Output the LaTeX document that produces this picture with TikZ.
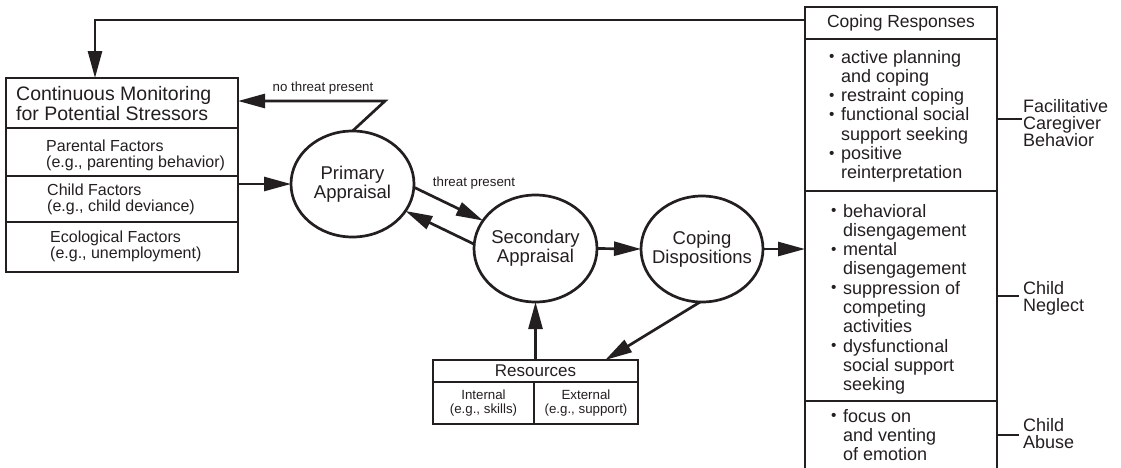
\documentclass[tikz,border=0pt]{standalone}
\usepackage{fontspec}
\setmainfont{Liberation Sans}
\usepackage{graphicx}
\usetikzlibrary{arrows.meta,shapes.geometric,calc}
\definecolor{ink}{HTML}{231F20}

% small bullet and matching hanging indent for the coping lists
\newcommand{\bul}{\makebox[12pt][l]{\raisebox{1.5pt}{\scalebox{0.85}{\textbullet}}}}
\newcommand{\ind}{\hspace*{12pt}}

\tikzset{
  frame/.style={draw=ink, line width=2.6pt, inner sep=0pt, outer sep=0pt},
  rframe/.style={draw=ink, line width=2.2pt, inner sep=0pt, outer sep=0pt},
  oval/.style={ellipse, draw=ink, line width=2.7pt, inner sep=0pt, outer sep=0pt,
               minimum width=123pt, minimum height=106pt},
  ovaltext/.style={align=center, inner sep=0pt, text=ink, font=\fontsize{18.5}{19}\selectfont},
  factor/.style={anchor=west, align=left, inner sep=0pt, text=ink, font=\fontsize{16}{16}\selectfont},
  small/.style={inner sep=0pt, text=ink, font=\fontsize{13.3}{14}\selectfont},
  list/.style={anchor=base west, inner sep=0pt, text=ink, font=\fontsize{18}{19.3}\selectfont},
  outcome/.style={anchor=north west, align=left, inner sep=0pt, text=ink, font=\fontsize{18}{17}\selectfont},
  flow/.style={draw=ink, line width=2.7pt, line join=miter, -{Triangle[length=27pt,width=14pt]}},
  tag/.style={draw=ink, line width=1.2pt},
}

\begin{document}
\begin{tikzpicture}[x=1pt,y=-1pt]
\useasboundingbox (0,0) rectangle (1121,467);
\clip (0,0) rectangle (1121,467);

% ---- monitoring box with its three stressor sources
\node[frame, minimum width=232pt, minimum height=50pt] (mon) at (122,103) {};
\node[anchor=west, align=left, inner sep=0pt, text=ink, font=\fontsize{19.5}{20}\selectfont]
  (monT) at (16,103.5) {Continuous Monitoring\\for Potential Stressors};
\node[frame, minimum width=232pt, minimum height=48pt] (par) at (122,152) {};
\node[factor] (parT) at (46,155) {Parental Factors\\(e.g., parenting behavior)};
\node[frame, minimum width=232pt, minimum height=46pt] (chi) at (122,199) {};
\node[factor] (chiT) at (47,199) {Child Factors\\(e.g., child deviance)};
\node[frame, minimum width=232pt, minimum height=50pt] (eco) at (122,247) {};
\node[factor] (ecoT) at (50,246.5) {Ecological Factors\\(e.g., unemployment)};

% ---- appraisal and disposition ellipses
\node[oval] (pri) at (352.5,184) {};
\node[ovaltext] (priT) at (pri) {Primary\\Appraisal};
\node[oval, minimum height=107pt] (sec) at (535.5,248.5) {};
\node[ovaltext] (secT) at (sec) {Secondary\\Appraisal};
\node[oval, minimum width=122pt] (cop) at (702,249) {};
\node[ovaltext] (copT) at (cop) {Coping\\Dispositions};

% ---- resources table
\node[frame, minimum width=205pt, minimum height=22pt, text=ink, font=\fontsize{17}{17}\selectfont]
  (res) at (535.5,371) {Resources};
\node[frame, minimum width=101pt, minimum height=42pt, align=center, text=ink, font=\fontsize{13.3}{14}\selectfont]
  (int) at (483.5,403) {Internal\\(e.g., skills)};
\node[frame, minimum width=104pt, minimum height=42pt, align=center, text=ink, font=\fontsize{13.3}{14}\selectfont]
  (ext) at (586,403) {External\\(e.g., support)};

% ---- coping responses column
\node[rframe, minimum width=192pt, minimum height=32pt, text=ink, font=\fontsize{17.5}{18}\selectfont]
  (resp) at (901,23) {Coping Responses};
\node[rframe, minimum width=192pt, minimum height=152pt] (fac) at (901,115) {};
\node[rframe, minimum width=192pt, minimum height=210pt] (neg) at (901,296) {};
\node[rframe, minimum width=192pt, minimum height=89pt] (abu) at (901,445.5) {};

\node[list] (facL) at (829,63) {\begin{tabular}[t]{@{}l@{}}
  \bul active planning\\ \ind and coping\\ \bul restraint coping\\
  \bul functional social\\ \ind support seeking\\ \bul positive\\ \ind reinterpretation
  \end{tabular}};
\node[list] (negL) at (831,217) {\begin{tabular}[t]{@{}l@{}}
  \bul behavioral\\ \ind disengagement\\ \bul mental\\ \ind disengagement\\
  \bul suppression of\\ \ind competing\\ \ind activities\\ \bul dysfunctional\\
  \ind social support\\ \ind seeking
  \end{tabular}};
\node[list] (abuL) at (831,422) {\begin{tabular}[t]{@{}l@{}}
  \bul focus on\\ \ind and venting\\ \ind of emotion
  \end{tabular}};

% ---- outcomes
\node[outcome] (facO) at (1023,99) {Facilitative\\Caregiver\\Behavior};
\node[outcome] (negO) at (1023,281) {Child\\Neglect};
\node[outcome] (abuO) at (1023,418) {Child\\Abuse};
\coordinate (facTag) at (1022,119);
\coordinate (negTag) at (1019,296);
\coordinate (abuTag) at (1019,435);
\draw[tag] (facTag -| fac.east) -- (facTag);
\draw[tag] (negTag -| neg.east) -- (negTag);
\draw[tag] (abuTag -| abu.east) -- (abuTag);

% ---- flow arrows
\draw[flow] (pri.west -| mon.east) -- (pri.west);
\coordinate (bend) at (385,101);
\draw[flow] (pri.north) -- (bend) -- (bend -| mon.east);
\node[small] (ntl) at (323,88) {no threat present};
\draw[flow] (pri.-3) -- (sec.152);
\draw[flow] (sec.176) -- (pri.-27);
\node[small] (tl) at (474,183) {threat present};
\draw[flow] (sec.east) -- (cop.west);
\draw[flow] (cop.east) -- (cop.east -| neg.west);
\draw[flow] (cop.-92) -- ($(res.north east)!0.16!(res.north west)$);
\draw[flow] (res.north) -- (sec.south);

% ---- feedback from coping responses back to monitoring
\coordinate (fb) at (95,20);
\draw[flow] (fb -| resp.west) -- (fb) -- (fb |- mon.north);
\end{tikzpicture}
\end{document}
